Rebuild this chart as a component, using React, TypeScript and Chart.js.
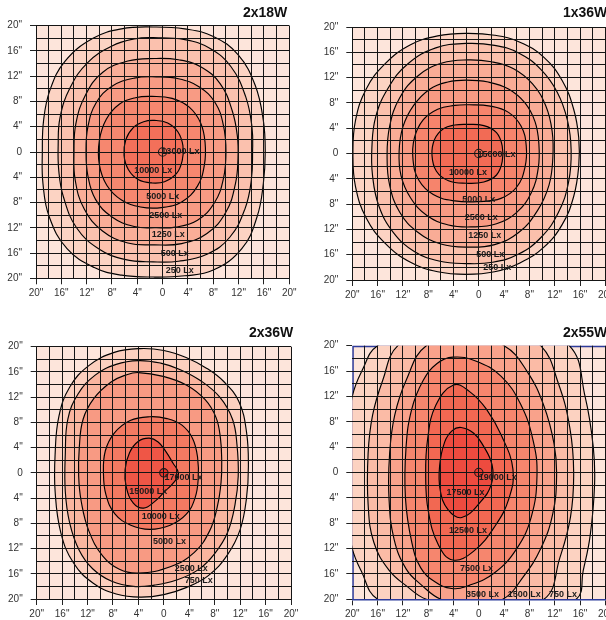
import React, { useEffect, useRef } from 'react';
import { Chart, registerables } from 'chart.js';

Chart.register(...registerables);

type Pt = [number, number];

// ---------- shared axis ticks (inches from fixture centre) ----------
const tickValues = [-20, -16, -12, -8, -4, 0, 4, 8, 12, 16, 20];
const tickLabels = ['20"', '16"', '12"', '8"', '4"', '0', '4"', '8"', '12"', '16"', '20"'];

// ---------- 2x18W ----------
const p1Title = '2x18W';
const p1Lux250: Pt[] = [[-1.5, 19.8], [3.5, 19.5], [8, 18.3], [11.9, 15.4], [14.6, 10.6], [15.9, 5], [16.2, 0], [15.9, -5], [14.9, -10.3], [12.5, -15.3], [8, -18.7], [3.5, -19.6], [-1.5, -19.8], [-6.5, -19.5], [-10.8, -18.3], [-15.1, -15.3], [-17.9, -10.3], [-18.9, -5], [-19, 0], [-18.8, 5], [-17.8, 9.8], [-15.4, 14.4], [-11, 18.0], [-6.5, 19.5]];
const p1Lux500: Pt[] = [[-1.5, 18.1], [3.5, 17.8], [7.5, 16.4], [10.8, 13.5], [13.1, 8.8], [14.1, 4], [14.2, 0], [14.0, -4.5], [13.0, -9], [10.6, -13.5], [7, -16.2], [2.5, -17.3], [-1.5, -17.4], [-6, -17], [-10, -15.4], [-13.6, -12], [-15.7, -7], [-16.4, -3], [-16.5, 1], [-16.2, 5.5], [-14.6, 10.2], [-11.8, 14.2], [-8, 16.8], [-4.5, 17.9]];
const p1Lux1250: Pt[] = [[-1.3, 14.8], [2.5, 14.6], [6, 13.5], [9.1, 10.8], [11.0, 6.5], [11.8, 2.5], [11.9, -1], [11.5, -5], [10, -9.5], [7, -12.9], [3, -14.5], [-1.3, -14.7], [-5.5, -14.4], [-9.5, -12.5], [-12.4, -9], [-13.8, -4.5], [-14, 0], [-13.7, 4.5], [-12.2, 9], [-9.5, 12.6], [-5.5, 14.4]];
const p1Lux2500: Pt[] = [[-1, 11.9], [2.5, 11.6], [5.8, 10.3], [8.3, 7.8], [9.6, 4.2], [10, 0], [9.6, -4.2], [8.2, -8], [5.5, -10.8], [2, -11.9], [-1, -12], [-4.5, -11.8], [-8, -10.3], [-10.6, -7.5], [-11.8, -3.8], [-12.1, 0], [-11.8, 4], [-10.5, 7.8], [-8, 10.4], [-4.5, 11.7]];
const p1Lux5000: Pt[] = [[-1.7, 8.8], [1.5, 8.5], [4.2, 7.1], [6, 4.6], [6.7, 1.5], [6.6, -2], [5.5, -5.4], [3, -7.9], [-0.2, -8.8], [-3.5, -8.7], [-6.5, -7.6], [-8.8, -5.3], [-10, -2], [-10, 1.8], [-8.9, 5.2], [-6.8, 7.6], [-4.3, 8.6]];
const p1Lux10000: Pt[] = [[-1.3, 5.0], [0.8, 4.6], [2.4, 3.2], [3.2, 1.0], [3.1, -1.3], [2.2, -3.4], [0.3, -4.7], [-1.7, -4.9], [-3.8, -4.4], [-5.4, -2.8], [-6.1, -0.5], [-5.8, 2.0], [-4.6, 3.9], [-3.0, 4.8]];
const p1Contours: Pt[][] = [p1Lux250, p1Lux500, p1Lux1250, p1Lux2500, p1Lux5000, p1Lux10000];
const p1LabelText = ['13000 Lx', '10000 Lx', '5000 Lx', '2500 Lx', '1250 Lx', '500 Lx', '250 Lx'];
const p1LabelAt: Pt[] = [[2.8, 0], [-1.5, -2.95], [0, -7.1], [0.5, -10.1], [0.9, -13.1], [1.9, -16], [2.7, -18.8]];

// ---------- 1x36W ----------
const p2Title = '1x36W';
const p2Lux250: Pt[] = [[-2, 19], [2.5, 18.7], [6.5, 17.6], [10.3, 15.2], [13.2, 11.5], [15, 7], [15.8, 2.5], [15.8, -2], [15, -6.8], [13.2, -11.2], [10.3, -14.8], [6.5, -17.3], [2.5, -18.7], [-2, -19.1], [-6.5, -18.7], [-10.8, -17.2], [-14.8, -14.2], [-17.8, -10.2], [-19.5, -5.2], [-19.9, 0], [-19.5, 5.2], [-17.8, 10.2], [-14.8, 14.2], [-10.8, 17.2], [-6.5, 18.6]];
const p2Lux500: Pt[] = [[-2, 17.4], [2.5, 17.1], [6.3, 15.9], [9.8, 13.3], [12.4, 9.7], [14.0, 5.3], [14.6, 0.5], [14.2, -4.5], [12.6, -9.3], [9.9, -13.2], [6.3, -15.9], [2.2, -17.2], [-2, -17.4], [-6.3, -17], [-10.2, -15.5], [-13.5, -12.5], [-15.8, -8.3], [-16.8, -3.5], [-16.9, 1], [-16.3, 5.8], [-14.3, 10.4], [-11.2, 14.2], [-6.8, 16.7]];
const p2Lux1250: Pt[] = [[-1.8, 14.8], [2, 14.5], [5.5, 13.4], [8.5, 11], [10.6, 7.5], [11.6, 3.5], [11.7, -0.8], [11.1, -5], [9.3, -9], [6.3, -12.5], [2.5, -14.4], [-1.8, -14.8], [-6, -14.3], [-9.7, -12.4], [-12.5, -9.3], [-14.1, -5], [-14.5, -0.5], [-14.1, 4.3], [-12.5, 8.8], [-9.6, 12.3], [-5.8, 14.3]];
const p2Lux2500: Pt[] = [[-2, 11.6], [1.5, 11.3], [4.7, 10.2], [7.3, 8], [8.9, 5], [9.5, 1.5], [9.4, -2.3], [8.3, -6.2], [6, -9.3], [2.8, -11.1], [-1, -11.6], [-4.8, -11.3], [-8.2, -9.8], [-10.8, -7], [-12.3, -3.5], [-12.6, 0.3], [-12, 4.2], [-10.3, 7.6], [-7.7, 10.2], [-4.9, 11.3]];
const p2Lux5000: Pt[] = [[-1.5, 7.7], [1.8, 7.5], [4.7, 6.5], [6.7, 4.3], [7.5, 1.2], [7.3, -2.2], [6, -5.3], [3.5, -7.1], [0, -7.6], [-3.8, -7.5], [-7.2, -6.5], [-9.5, -4.2], [-10.4, -1], [-10.2, 2.4], [-8.8, 5.3], [-6.5, 7], [-3.8, 7.6]];
const p2Lux10000: Pt[] = [[-1.8, 4.6], [0.8, 4.4], [2.8, 3.3], [3.7, 1.2], [3.7, -1.3], [2.8, -3.4], [0.8, -4.5], [-2, -4.7], [-4.8, -4.3], [-6.7, -2.8], [-7.4, -0.3], [-7, 2.2], [-5.6, 3.9], [-3.8, 4.5]];
const p2Contours: Pt[][] = [p2Lux250, p2Lux500, p2Lux1250, p2Lux2500, p2Lux5000, p2Lux10000];
const p2LabelText = ['15000 Lx', '10000 Lx', '5000 Lx', '2500 Lx', '1250 Lx', '500 Lx', '250 Lx'];
const p2LabelAt: Pt[] = [[2.8, -0.1], [-1.7, -3.0], [0, -7.2], [0.4, -10.1], [0.95, -13], [1.8, -16], [2.9, -18.1]];

// ---------- 2x36W ----------
const p3Title = '2x36W';
const p3Lux750: Pt[] = [[-3.7, 19.7], [0, 19.4], [3.5, 18.3], [6.7, 16.6], [9.5, 14.4], [11.8, 11.3], [13.0, 6.5], [13.3, 1], [13.0, -4], [12.0, -9], [10.0, -13], [7, -16.3], [3.5, -18.2], [0, -19.3], [-3.7, -19.7], [-7.5, -19.2], [-11.1, -17.5], [-14.2, -14.3], [-16.2, -9.5], [-17.1, -3], [-17.1, 3], [-16.5, 9], [-14.8, 13.6], [-11.8, 17], [-7.8, 19.1]];
const p3Lux2500: Pt[] = [[-4, 17.8], [-0.5, 17.4], [2.5, 16.4], [5.8, 14.6], [8.8, 12.0], [10.8, 8.5], [11.5, 4.5], [11.7, -0.5], [11.2, -5], [10, -9.5], [8, -12.8], [5.5, -15.3], [2, -17], [-1.5, -17.8], [-4.8, -18], [-8.2, -17.2], [-11.2, -15.2], [-13.3, -12.3], [-14.8, -8], [-15.5, -3], [-15.5, 3], [-15.1, 8.5], [-13.5, 12.5], [-10.8, 15.5], [-7.5, 17.2]];
const p3Lux5000: Pt[] = [[-4, 15.9], [-0.1, 15.3], [3.6, 13.9], [6.5, 11.6], [8.2, 8.8], [8.9, 5.5], [9.1, 2], [9.0, -1.5], [8.4, -5.4], [7.2, -9.2], [4.8, -12.6], [1, -14.9], [-4, -15.9], [-7, -15.3], [-9.6, -13.2], [-11.8, -9.2], [-13, -4.5], [-13.4, -0.5], [-13.3, 4], [-12.7, 8.5], [-11, 11.8], [-8.3, 14.4], [-6, 15.5]];
const p3Lux10000: Pt[] = [[-2.2, 8.9], [0.5, 8.6], [2.8, 7.6], [4.5, 5.5], [5.3, 2.5], [5.4, -1], [4.9, -4], [3.5, -6.6], [1, -8.3], [-2.2, -8.95], [-5.2, -8.3], [-7.7, -6.5], [-9.1, -3.5], [-9.5, 0], [-9.2, 3.5], [-7.8, 6.3], [-5.3, 8.3]];
const p3Lux15000: Pt[] = [[-2.3, 5.5], [-0.9, 4.9], [0.3, 3.4], [1.4, 1.6], [2.3, -0.1], [1.5, -1.6], [0.2, -2.9], [-1.5, -4.6], [-3.2, -5.6], [-4.8, -4.8], [-5.9, -2.3], [-6.1, 0.5], [-5.4, 3.2], [-4, 5]];
const p3Contours: Pt[][] = [p3Lux750, p3Lux2500, p3Lux5000, p3Lux10000, p3Lux15000];
const p3LabelText = ['17000 Lx', '15000 Lx', '10000 Lx', '5000 Lx', '2500 Lx', '750 Lx'];
const p3LabelAt: Pt[] = [[3.1, -0.75], [-2.45, -3.0], [-0.5, -6.9], [0.9, -10.9], [4.3, -15.1], [5.5, -17.1]];

// ---------- 2x55W ----------
const p4Title = '2x55W';
const p4Lux750: Pt[] = [[-1, 23], [7, 22], [14.3, 20], [16.8, 12], [18.1, 4], [18.3, -2], [17.6, -10], [16.5, -15.5], [15.4, -20], [8, -22.5], [0, -23], [-8, -22.5], [-16, -20], [-18.6, -15.5], [-20, -12], [-21.2, -5], [-21.4, 2], [-20, 12], [-18.4, 16.2], [-16, 20], [-9, 22.5]];
const p4Lux1500: Pt[] = [[-1.5, 22.5], [5, 22], [9.8, 20], [12.6, 14], [14.4, 7], [15, 0], [14.5, -7], [12.8, -13.5], [10.3, -20], [1, -22.5], [-8.3, -20], [-11.3, -18], [-14.2, -15.4], [-16.6, -11], [-17.5, -5], [-17.5, 3], [-16.8, 9], [-15.2, 14.5], [-12.8, 20], [-7, 22.3]];
const p4Lux3500: Pt[] = [[-2, 21.5], [4.0, 20], [7.6, 16], [10.3, 10.5], [11.9, 4.5], [12.3, -0.5], [11.7, -6.5], [9.8, -12], [7, -16.5], [3.8, -20], [-1, -21.2], [-6, -20], [-9, -17.8], [-11.5, -15.2], [-13.4, -10.5], [-14.2, -4], [-14.1, 3], [-13.3, 9], [-11.5, 14.5], [-8.3, 20]];
const p4Lux7500: Pt[] = [[-4.1, 18.2], [-0.5, 17.6], [3.5, 15.2], [6.6, 10.8], [8.6, 5.0], [9.2, -0.5], [8.3, -7.0], [6.0, -12.0], [2.5, -15.8], [-1.5, -17.8], [-4.3, -18.3], [-7.0, -17.2], [-9.2, -15.0], [-10.6, -11.0], [-11.6, -4.0], [-11.5, 4.0], [-10.6, 10.0], [-8.8, 14.5], [-6.6, 17.2]];
const p4Lux12500: Pt[] = [[-4.0, 13.8], [-1.5, 12.8], [1.2, 10.0], [3.6, 5.8], [5.4, 0.5], [4.8, -4.0], [2.6, -8.4], [-0.8, -12.4], [-4.1, -13.8], [-6.4, -11.4], [-8.0, -6.0], [-8.4, -0.5], [-8.1, 5.2], [-6.8, 10.6]];
const p4Lux17500: Pt[] = [[-2.8, 7.1], [-0.8, 6.2], [0.6, 4.4], [2.1, 1.2], [2.0, -1.8], [0.3, -4.6], [-2.7, -7.1], [-4.9, -5.8], [-6.1, -2.8], [-6.2, 1.0], [-5.4, 4.8], [-4.2, 6.6]];
const p4Contours: Pt[][] = [p4Lux750, p4Lux1500, p4Lux3500, p4Lux7500, p4Lux12500, p4Lux17500];
const p4LabelText = ['19000 Lx', '17500 Lx', '12500 Lx', '7500 Lx', '3500 Lx', '1500 Lx', '750 Lx'];
const p4LabelAt: Pt[] = [[3.0, -0.8], [-2.1, -3.2], [-1.7, -9.2], [-0.35, -15.1], [0.6, -19.3], [7.2, -19.3], [13.3, -19.3]];

// ---------- styling ----------
const FONT = '"Liberation Sans", Arial, Helvetica, sans-serif';

interface PanelSpec {
  title: string;
  contours: Pt[][];
  labels: string[];
  labelAt: Pt[];
  fills: string[];
  bg: string;
  marker: string;
  left: number;
  top: number;
  width: number;
  height: number;
  pad: { left: number; top: number; right: number; bottom: number };
  yWidth: number;
  titleDx: number;
  titleDy: number;
  blueFrame: boolean;
}

const panels: PanelSpec[] = [
  {
    title: p1Title, contours: p1Contours, labels: p1LabelText, labelAt: p1LabelAt,
    fills: ['#fcd3c3', '#fbc1ae', '#faae98', '#f89b84', '#f6876f', '#f3705a'],
    bg: '#fde5db', marker: 'rgba(0,0,0,0)',
    left: 0, top: 0, width: 300, height: 305,
    pad: { left: 0, top: 25.7, right: 10.7, bottom: 6.7 }, yWidth: 36,
    titleDx: -2, titleDy: -12.4, blueFrame: false,
  },
  {
    title: p2Title, contours: p2Contours, labels: p2LabelText, labelAt: p2LabelAt,
    fills: ['#fcd3c3', '#fbc0ac', '#f9ac96', '#f89a83', '#f6846c', '#f26b55'],
    bg: '#fde5db', marker: 'rgba(0,0,0,0)',
    left: 316, top: 0, width: 300, height: 307,
    pad: { left: 0, top: 27, right: 10.7, bottom: 7 }, yWidth: 36.3,
    titleDx: 2, titleDy: -13.7, blueFrame: false,
  },
  {
    title: p3Title, contours: p3Contours, labels: p3LabelText, labelAt: p3LabelAt,
    fills: ['#fcd0bf', '#fab59f', '#f89a83', '#f47a62', '#ef5646'],
    bg: '#fde5db', marker: '#e8322a',
    left: 0, top: 320, width: 302, height: 306,
    pad: { left: 0, top: 26.7, right: 11, bottom: 7 }, yWidth: 36.7,
    titleDx: 2.3, titleDy: -14, blueFrame: false,
  },
  {
    title: p4Title, contours: p4Contours, labels: p4LabelText, labelAt: p4LabelAt,
    fills: ['#fcd2c1', '#fbbba6', '#f9a28b', '#f6866e', '#f26852', '#ee4b3f'],
    bg: '#fde5db', marker: '#e93a30',
    left: 316, top: 320, width: 300, height: 306,
    pad: { left: 0, top: 25.7, right: 10.7, bottom: 6.7 }, yWidth: 36.3,
    titleDx: 2, titleDy: -12.4, blueFrame: true,
  },
];

function tickText(v: number | string): string {
  const i = tickValues.indexOf(Number(v));
  return i >= 0 ? tickLabels[i] : '';
}

function axisOptions(spec: PanelSpec, isX: boolean): any {
  return {
    type: 'linear',
    position: isX ? 'bottom' : 'left',
    min: -20,
    max: 20,
    ticks: {
      stepSize: 2,
      autoSkip: false,
      maxRotation: 0,
      minRotation: 0,
      padding: isX ? 3 : 8,
      color: '#333',
      font: { family: FONT, size: 10 },
      callback: (v: number | string) => tickText(v),
    },
    grid: {
      z: 1,
      lineWidth: 1,
      tickLength: 6,
      color: (ctx: any) => {
        const v = ctx.tick ? ctx.tick.value : null;
        if (spec.blueFrame && (isX ? v === -20 : Math.abs(v) === 20)) return 'rgba(0,0,0,0)';
        return '#151515';
      },
      tickColor: (ctx: any) => (ctx.tick && tickValues.includes(ctx.tick.value) ? '#222' : 'rgba(0,0,0,0)'),
    },
    border: isX && spec.blueFrame ? { display: true, color: '#2d3c9c', width: 1.5, z: 2 } : { display: false },
    afterFit: (s: any) => {
      if (isX) s.height = 20;
      else s.width = spec.yWidth;
    },
  };
}

function Panel({ spec }: { spec: PanelSpec }) {
  const ref = useRef<HTMLCanvasElement | null>(null);

  useEffect(() => {
    const canvas = ref.current;
    if (!canvas) return;
    const n = spec.contours.length;
    const datasets: any[] = spec.contours.map((pts, i) => ({
      type: 'line',
      data: pts.map(([x, y]) => ({ x, y })),
      borderColor: '#000',
      borderWidth: 1.15,
      backgroundColor: spec.fills[i],
      fill: 'shape',
      tension: 0.42,
      capBezierPoints: false,
      pointRadius: 0,
      pointHoverRadius: 0,
      clip: 0,
      order: n - i + 1,
      closedLoop: true,
    }));
    datasets.push({
      type: 'line',
      data: [{ x: 0, y: 0 }],
      showLine: false,
      fill: false,
      pointRadius: 4.2,
      pointBackgroundColor: spec.marker,
      pointBorderColor: '#1a1a1a',
      pointBorderWidth: 1.1,
      order: 0,
      clip: 0,
    });

    const isoluxPlugin = {
      id: 'isolux',
      afterDatasetUpdate(chart: any, args: any) {
        const ds = chart.data.datasets[args.index];
        if (ds && ds.closedLoop && args.meta.dataset) {
          args.meta.dataset._loop = true;
          args.meta.dataset._fullLoop = true;
        }
      },
      beforeDatasetsDraw(chart: any) {
        const { ctx, chartArea: a } = chart;
        ctx.save();
        ctx.fillStyle = spec.bg;
        ctx.fillRect(a.left, a.top, a.right - a.left, a.bottom - a.top);
        if (spec.blueFrame) {
          ctx.strokeStyle = '#2d3c9c';
          ctx.lineWidth = 1.5;
          ctx.beginPath();
          ctx.moveTo(a.left + 0.75, a.bottom);
          ctx.lineTo(a.left + 0.75, a.top + 0.75);
          ctx.lineTo(a.right, a.top + 0.75);
          ctx.stroke();
        }
        ctx.restore();
      },
      afterDraw(chart: any) {
        const { ctx, chartArea: a, scales } = chart;
        ctx.save();
        ctx.fillStyle = '#1b1b1b';
        ctx.font = `bold 9px ${FONT}`;
        ctx.textAlign = 'center';
        ctx.textBaseline = 'middle';
        spec.labels.forEach((t, i) => {
          const [x, y] = spec.labelAt[i];
          ctx.fillText(t, scales.x.getPixelForValue(x), scales.y.getPixelForValue(y));
        });
        ctx.fillStyle = '#111';
        ctx.font = `bold 14px ${FONT}`;
        ctx.textAlign = 'right';
        ctx.fillText(spec.title, a.right + spec.titleDx, a.top + spec.titleDy);
        ctx.restore();
      },
    };

    const chart = new Chart(canvas, {
      type: 'line',
      data: { datasets },
      options: {
        animation: false,
        responsive: false,
        events: [],
        layout: { padding: spec.pad },
        plugins: {
          legend: { display: false },
          tooltip: { enabled: false },
          title: { display: false },
        },
        scales: {
          x: axisOptions(spec, true),
          y: axisOptions(spec, false),
        },
      } as any,
      plugins: [isoluxPlugin as any],
    });
    return () => chart.destroy();
  }, [spec]);

  return (
    <canvas
      ref={ref}
      width={spec.width}
      height={spec.height}
      style={{ position: 'absolute', left: spec.left, top: spec.top, width: spec.width, height: spec.height }}
    />
  );
}

export default function App() {
  return (
    <div style={{ position: 'fixed', left: 0, top: 0, width: 606, height: 620, overflow: 'hidden', background: '#fff' }}>
      {panels.map((p, i) => (
        <Panel key={i} spec={p} />
      ))}
    </div>
  );
}
